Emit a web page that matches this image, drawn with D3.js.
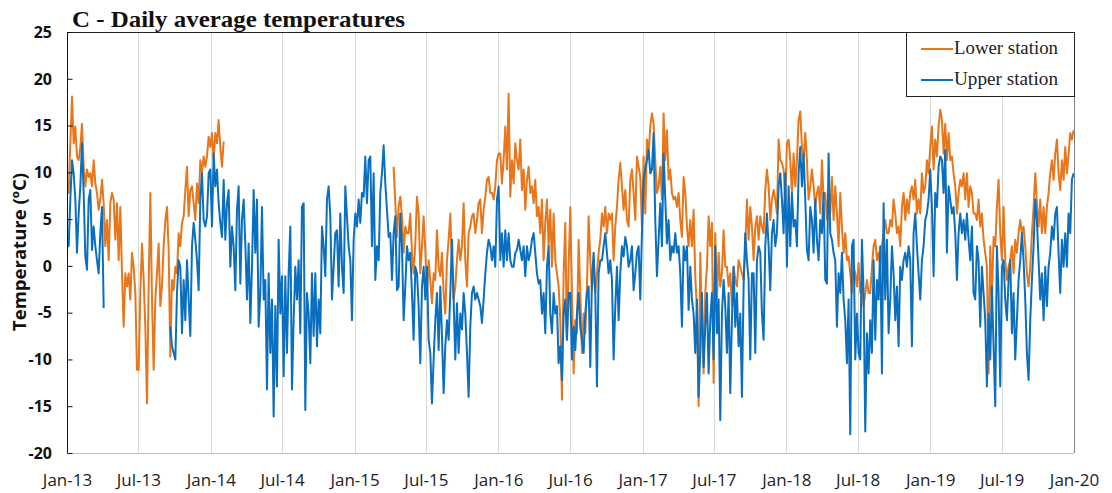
<!DOCTYPE html>
<html>
<head>
<meta charset="utf-8">
<script src="https://cdn.jsdelivr.net/npm/d3@7"></script>
<style>
  body { margin: 0; background: #fff; }
  svg { display: block; }
</style>
</head>
<body>
<svg id="chart" width="1112" height="493"></svg>
<script>
// Readings from 1 Jan 2013, one value every 4.23 days, in °C (null = no data).
const seriesStart = "2013-01-01";
const stepDays = 4.23;
const gap = n => Array(n).fill(null);

const lowerStation = [
  7.8,7.8,13.1,18.1,13.1,14.9,11.7,11.3,12.7,15.2,
  10.6,8.5,10.3,9.5,9.9,8.5,11.3,8.8,7.8,6.0,
  7.1,9.2,6.7,2.1,4.9,0.6,6.7,7.8,7.1,2.8,
  6.7,0.6,6.3,-0.8,-6.5,-0.8,-2.2,-0.8,-3.6,1.4,
  -0.1,-2.9,-11.1,-11.1,-2.9,2.4,-1.5,-6.5,-14.7,-2.2,
  7.8,-3.6,-11.1,-3.6,-0.8,2.4,-4.3,-2.2,2.1,4.9,
  6.3,1.7,-9.7,-1.5,-2.6,-0.1,-0.8,3.5,2.1,4.6,
  5.3,8.1,10.6,5.3,8.1,8.5,6.7,4.9,8.8,6.7,
  11.3,9.9,11.7,10.6,11.7,13.8,12.7,
  14.2,11.3,14.2,13.1,15.6,12.7,10.6,13.3,
  ...gap(101),
  10.6,6.7,3.1,6.3,7.4,5.3,1.4,4.2,3.5,3.5,
  5.6,1.4,-0.8,2.4,7.4,5.6,-0.8,2.1,5.3,1.7,
  -2.9,0.6,-1.5,-4.0,-0.8,-1.5,3.8,-0.1,-1.1,1.4,
  -2.9,-5.1,0.6,2.8,5.6,-0.1,-3.6,-2.2,0.6,2.8,
  0.6,2.1,6.7,0.6,-2.2,3.5,4.2,5.3,5.6,3.5,
  4.9,6.7,7.1,3.5,6.0,7.4,9.2,9.5,7.8,7.8,
  7.1,8.5,11.3,12.0,
  12.0,8.8,11.3,14.9,10.3,18.4,7.4,11.3,8.8,13.1,
  11.3,10.3,13.5,8.1,10.3,6.0,9.2,10.6,7.8,8.5,
  6.7,9.2,5.3,6.3,3.5,7.1,0.6,4.6,7.1,2.1,
  6.0,-0.1,5.6,0.6,-0.8,-2.2,-5.8,-14.3,-0.8,4.6,
  -7.9,-0.1,6.3,-2.9,-11.5,-5.8,-7.2,2.8,-2.9,-9.3,
  -5.1,-7.2,-2.2,5.3,0.6,-2.6,-0.1,-2.9,-0.8,1.4,
  2.8,5.6,4.2,6.3,3.5,5.6,4.9,5.6,0.6,4.2,
  6.3,9.2,11.0,8.5,6.0,8.1,4.9,4.2,9.2,10.3,
  7.8,4.9,11.7,10.6,9.5,4.2,11.7,
  5.6,13.5,12.0,14.9,16.3,15.2,11.3,7.8,8.5,10.6,
  7.1,16.3,11.3,14.5,9.2,10.3,7.8,7.1,7.4,6.3,
  7.8,4.9,3.1,9.5,7.8,4.2,2.1,4.9,2.1,6.0,
  -1.1,-4.7,-15.0,1.4,-6.5,-11.5,-2.9,-0.1,5.3,2.1,
  4.6,-12.5,3.5,-3.6,1.4,-2.2,-0.8,3.8,-0.1,-0.1,
  -2.2,-0.8,-4.3,-0.1,-1.5,-2.2,0.6,-0.1,-0.8,-1.5,
  2.1,7.1,2.8,6.3,4.2,0.6,4.2,5.3,2.8,5.3,
  4.2,3.5,8.1,10.3,8.5,4.9,7.1,8.1,7.1,5.6,
  13.5,11.3,11.0,10.3,7.1,13.1,13.5,
  11.3,7.8,12.0,8.5,11.3,15.6,16.5,12.7,11.3,14.2,
  11.3,7.1,8.5,10.3,8.5,6.3,7.8,8.5,5.6,11.3,
  7.1,7.8,4.9,8.5,5.6,9.5,4.9,8.5,5.6,2.1,
  7.8,4.2,1.4,3.5,0.6,1.0,-0.8,-2.9,-0.1,-0.8,
  -2.2,0.3,-2.9,-1.5,-4.3,-2.9,-1.5,-2.9,-2.9,-0.1,
  2.1,2.8,0.6,1.4,-0.1,2.1,3.5,4.9,3.5,3.5,
  4.9,4.2,7.1,5.6,3.5,4.2,2.1,6.3,7.8,4.9,
  7.1,5.6,7.8,8.5,7.1,9.2,5.6,7.1,5.6,9.9,
  7.8,8.5,11.3,9.9,12.7,14.9,10.3,
  13.5,11.7,14.9,16.7,15.6,12.0,15.2,11.3,14.2,11.3,
  11.7,9.9,8.5,5.6,7.8,9.2,8.5,9.9,7.1,9.9,
  6.3,8.5,7.8,5.6,5.6,4.9,7.1,4.2,5.6,2.8,
  1.4,-0.1,-11.5,2.1,-3.6,3.1,2.1,6.3,9.2,3.5,
  0.6,6.3,0.6,-1.5,-0.1,0.6,2.1,-0.8,2.8,1.4,
  3.5,4.9,3.5,4.2,2.1,-0.8,-2.2,-0.1,3.5,6.3,
  9.9,6.7,4.2,7.1,3.5,6.3,3.5,6.3,7.8,9.9,
  11.3,9.2,12.0,13.5,9.9,8.1,11.3,9.2,12.7,9.9,
  12.0,14.2,13.5,14.5
];

const upperStation = [
  2.1,2.1,7.1,11.3,9.9,7.1,1.4,5.6,8.5,13.1,
  7.8,1.0,-0.4,7.1,8.1,1.7,4.2,2.1,0.6,-0.8,
  3.5,6.3,-4.5,
  ...gap(39),
  -6.5,-8.6,-9.3,-10.0,-2.9,0.6,-0.1,-7.2,-1.5,-5.8,
  0.6,-3.6,-7.5,2.1,4.6,2.8,0.6,-2.6,7.1,9.9,
  4.9,4.2,5.3,9.9,10.3,
  4.2,12.0,8.5,10.3,6.7,4.6,3.1,9.2,2.8,6.7,
  8.1,-0.1,4.2,2.1,-2.6,6.0,8.5,-1.9,4.9,7.1,
  2.4,-3.6,2.4,-6.1,-0.1,8.1,1.4,7.1,-6.5,-2.9,
  6.3,-3.6,-1.5,-13.2,-0.8,-9.3,-3.6,-16.1,-4.3,-12.9,
  2.8,-5.1,-1.1,-11.8,-1.1,-9.3,-0.8,4.2,-13.2,-5.8,
  -0.1,-3.6,0.6,-7.2,6.3,6.7,-15.4,-2.9,-5.1,-10.4,
  -0.8,-7.5,-0.8,-8.6,-3.6,-7.2,4.2,2.1,-1.1,7.1,
  8.5,5.3,-3.6,-0.1,3.5,3.8,-2.2,5.6,-0.1,-2.9,
  8.5,5.3,2.1,0.6,-5.8,2.8,
  5.6,4.2,7.1,4.6,7.8,7.4,11.7,6.7,11.3,11.7,
  2.1,9.9,-1.5,2.1,0.6,7.8,9.9,12.9,8.8,6.0,
  3.1,3.5,-1.5,3.5,5.3,-2.6,-2.2,5.6,2.1,-5.8,
  -2.2,2.1,0.6,1.4,-2.9,-7.9,-0.1,-0.8,-4.3,-10.4,
  -2.2,-0.1,-3.6,-0.1,-7.9,-9.3,-14.7,-10.0,-5.8,-2.9,
  -9.0,-2.2,-7.5,-13.6,-8.6,-5.8,-7.9,-2.9,2.8,-3.6,
  -10.0,-4.0,-9.3,-5.1,-6.8,-2.9,-5.1,-9.3,-14.0,-6.5,
  -2.9,-2.2,-3.6,-2.9,-3.6,-4.3,-6.1,-3.6,-0.8,1.4,
  2.8,2.1,0.6,2.1,-0.1,7.1,8.5,
  0.6,3.5,-0.1,3.8,0.6,3.5,0.6,-0.1,-0.1,1.4,
  1.7,2.8,1.7,0.6,2.1,-1.1,2.1,0.6,1.4,2.8,
  3.5,1.4,-0.8,-1.9,-1.5,-5.1,-2.9,-7.2,-0.1,2.1,
  -5.1,-7.2,-2.9,-5.1,-4.3,-10.4,-8.6,-12.2,-5.1,-3.6,
  -7.9,-2.9,-2.9,-10.0,-6.5,-9.0,-5.1,-2.9,-6.5,-7.9,
  -9.3,-5.1,-2.9,-2.2,-10.8,-1.5,1.4,-2.9,-12.9,-0.8,
  0.6,0.6,2.1,3.5,1.4,-0.8,0.6,-1.5,-10.0,-4.3,
  -0.1,-5.8,-0.8,2.1,1.0,3.1,2.1,-0.1,0.6,2.1,
  -2.6,-0.8,1.4,2.1,-3.6,3.5,9.2,
  10.3,11.3,12.4,9.9,10.3,14.2,4.9,-1.1,2.8,6.7,
  2.1,12.0,7.1,2.4,4.9,0.6,2.1,1.4,3.5,1.4,
  2.1,-0.8,-6.5,2.1,0.6,2.1,-4.7,-0.1,-3.6,-5.1,
  -9.3,-3.6,-14.0,-9.3,-2.9,-10.8,-6.5,-2.9,-11.5,-5.8,
  -2.9,-10.0,2.1,-7.2,-3.6,-16.5,-5.1,-1.5,-4.3,-9.3,
  -2.9,-13.6,-5.8,-0.1,-6.5,-2.9,-8.6,-5.1,-14.0,-2.2,
  3.5,0.6,-1.5,-10.0,-0.8,-0.8,-9.3,0.6,2.1,1.4,
  -5.1,-7.9,2.1,5.6,2.1,-2.6,3.5,4.9,2.1,3.5,
  8.5,9.9,7.1,3.5,9.9,-0.1,8.5,
  2.1,7.8,4.2,4.9,2.1,9.9,12.7,8.5,12.0,7.1,
  1.7,0.6,6.3,4.9,1.4,7.1,2.8,0.6,4.9,3.5,
  7.8,-1.5,-1.9,12.0,3.5,2.8,1.4,0.6,-6.5,-0.8,
  -2.9,1.4,-3.6,-5.8,-10.4,-3.6,-18.0,2.1,2.8,-10.0,
  -5.1,-9.3,-10.0,2.8,-2.9,-17.7,-7.2,-11.5,-5.8,-9.3,
  0.6,-7.9,-1.5,-3.6,2.1,-11.5,6.7,-3.6,2.8,-7.2,
  -3.6,2.1,-0.8,-5.8,-2.2,-8.6,-0.1,-1.5,0.6,1.4,
  -0.1,2.1,0.6,-8.6,3.5,5.6,2.1,-0.8,-3.6,0.6,
  2.1,4.9,5.6,7.1,10.3,6.3,-1.1,
  7.8,6.3,10.6,11.7,11.3,7.8,12.4,1.4,8.5,7.1,
  5.6,6.3,3.5,-1.5,3.5,5.6,3.5,4.9,2.8,5.6,
  2.8,0.6,4.2,-2.9,-3.6,2.1,0.6,-6.5,-0.1,-2.9,
  -5.8,-12.9,-5.1,-10.0,-2.2,-8.6,-15.0,2.1,-2.9,-12.9,
  -0.1,0.6,-3.6,-5.8,-1.5,0.6,-7.2,-2.9,-10.0,-5.8,
  -1.5,0.6,3.5,0.6,-3.6,-9.3,-12.2,-5.8,-1.5,2.1,
  7.1,4.9,0.6,-3.6,-0.8,-5.8,-0.1,-4.3,-0.1,1.4,
  4.2,2.8,5.6,6.3,1.4,-2.9,2.8,-0.1,3.5,-0.1,
  5.6,3.5,9.2,9.9
];

const seriesNames = ["Lower station", "Upper station"];
const seriesColors = ["#E8761B", "#0B6FBF"];
const yTicks = [-20, -15, -10, -5, 0, 5, 10, 15, 20, 25];
const xDomain = ["2013-01-01", "2020-01-01"];
const titleText = "C - Daily average temperatures";
const yTitleText = "Temperature (ºC)";

const parse = d3.utcParse("%Y-%m-%d");
const t0 = parse(seriesStart);
const dayMs = 86400000;
const toPoints = arr => arr.map((v, i) => ({ date: new Date(+t0 + i * stepDays * dayMs), value: v }));

const svg = d3.select("#chart");
const plot = { left: 67, right: 1074, top: 32, bottom: 453 };

const x = d3.scaleUtc()
  .domain(xDomain.map(parse))
  .range([plot.left, plot.right]);
const y = d3.scaleLinear()
  .domain([d3.min(yTicks), d3.max(yTicks)])
  .range([plot.bottom, plot.top]);

const xTickDates = d3.utcMonth.every(6).range(x.domain()[0], d3.utcDay.offset(x.domain()[1], 1));
const fmt = d3.utcFormat("%b-%y");

// vertical gridlines at every half year
svg.append("g")
  .selectAll("line")
  .data(xTickDates)
  .join("line")
  .attr("x1", d => Math.round(x(d)) + 0.5)
  .attr("x2", d => Math.round(x(d)) + 0.5)
  .attr("y1", plot.top)
  .attr("y2", plot.bottom)
  .attr("stroke", "#d9d9d9")
  .attr("stroke-width", 1);

// x axis labels
const xAxis = d3.axisBottom(x).tickValues(xTickDates).tickFormat(fmt).tickSize(0).tickPadding(0);
const gx = svg.append("g").attr("transform", `translate(0,${plot.bottom})`).call(xAxis);
gx.select(".domain").remove();
gx.selectAll("text")
  .attr("y", 33)
  .attr("dy", null)
  .attr("fill", "#222")
  .style("font-family", "'Open Sans', sans-serif")
  .style("font-size", "17px");

// bottom axis line
svg.append("line")
  .attr("x1", plot.left).attr("x2", plot.right)
  .attr("y1", plot.bottom + 0.5).attr("y2", plot.bottom + 0.5)
  .attr("stroke", "#bfbfbf");

// top and right frame
svg.append("line")
  .attr("x1", plot.left).attr("x2", plot.right)
  .attr("y1", plot.top + 0.5).attr("y2", plot.top + 0.5)
  .attr("stroke", "#222");
svg.append("line")
  .attr("x1", plot.right + 0.5).attr("x2", plot.right + 0.5)
  .attr("y1", plot.top).attr("y2", plot.bottom)
  .attr("stroke", "#7f7f7f");

// data lines (upper station drawn over lower station)
const line = d3.line()
  .defined(d => d.value !== null)
  .x(d => x(d.date))
  .y(d => y(d.value));

[lowerStation, upperStation].forEach((arr, i) => {
  svg.append("path")
    .datum(toPoints(arr))
    .attr("fill", "none")
    .attr("stroke", seriesColors[i])
    .attr("stroke-width", 2)
    .attr("stroke-linejoin", "round")
    .attr("d", line);
});

// y axis with inward ticks
const yAxis = d3.axisRight(y).tickValues(yTicks).tickSize(5).tickFormat("");
const gy = svg.append("g").attr("transform", `translate(${plot.left + 0.5},0)`).call(yAxis);
gy.select(".domain").attr("stroke", "#111").attr("d", `M0,${plot.top}V${plot.bottom}`);
gy.selectAll(".tick line").attr("stroke", "#111");

svg.append("g")
  .selectAll("text")
  .data(yTicks)
  .join("text")
  .attr("x", 52)
  .attr("y", d => y(d))
  .attr("dy", "0.36em")
  .attr("text-anchor", "end")
  .attr("fill", "#111")
  .style("font-family", "'Open Sans', sans-serif")
  .style("font-weight", "bold")
  .style("font-size", "16px")
  .text(d => d);

// y axis title
svg.append("text")
  .attr("transform", `translate(26,252) rotate(-90)`)
  .attr("text-anchor", "middle")
  .attr("fill", "#111")
  .attr("textLength", 158)
  .attr("lengthAdjust", "spacingAndGlyphs")
  .style("font-family", "'Open Sans', sans-serif")
  .style("font-weight", "bold")
  .style("font-size", "17px")
  .text(yTitleText);

// chart title
svg.append("text")
  .attr("x", 72)
  .attr("y", 27)
  .attr("fill", "#111")
  .attr("textLength", 333)
  .attr("lengthAdjust", "spacingAndGlyphs")
  .style("font-family", "'Liberation Serif', serif")
  .style("font-weight", "bold")
  .style("font-size", "24px")
  .text(titleText);

// legend
const legend = svg.append("g");
legend.append("rect")
  .attr("x", 906.5).attr("y", plot.top + 0.5)
  .attr("width", plot.right - 906).attr("height", 64)
  .attr("fill", "#fff").attr("stroke", "#222");
seriesNames.forEach((name, i) => {
  const ly = 49 + i * 31;
  legend.append("line")
    .attr("x1", 921).attr("x2", 953)
    .attr("y1", ly).attr("y2", ly)
    .attr("stroke", seriesColors[i]).attr("stroke-width", 2);
  legend.append("text")
    .attr("x", 954).attr("y", ly + 5)
    .attr("fill", "#222")
    .attr("textLength", 104)
    .attr("lengthAdjust", "spacingAndGlyphs")
    .style("font-family", "'Liberation Serif', serif")
    .style("font-size", "18px")
    .text(name);
});
</script>
</body>
</html>
